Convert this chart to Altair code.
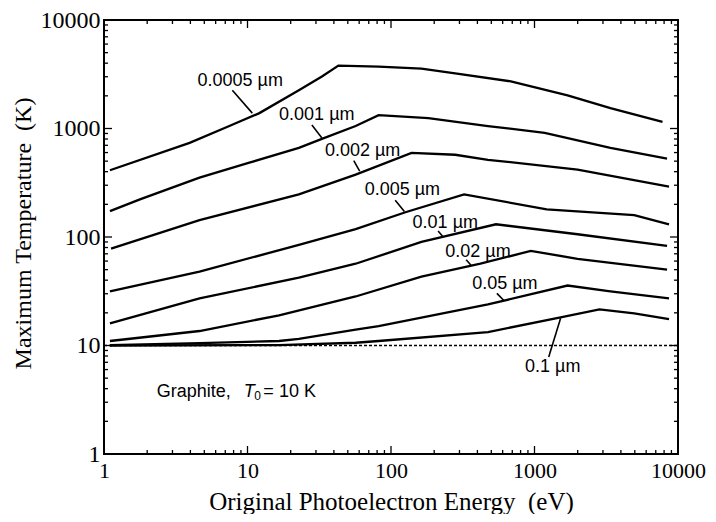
import altair as alt
import pandas as pd

# ---------------- data ----------------
sizes = ["0.0005 µm", "0.001 µm", "0.002 µm", "0.005 µm",
         "0.01 µm", "0.02 µm", "0.05 µm", "0.1 µm"]

energy_a = [1.1, 3.95, 7.47, 12.1, 22.8, 33, 43, 82, 163, 280, 684, 1700, 3380, 7800]
temp_a = [412, 738, 1054, 1386, 2248, 3015, 3800, 3725, 3570, 3215, 2720, 2023, 1540, 1150]

energy_b = [1.1, 1.78, 4.63, 10.3, 22.8, 33, 56.7, 82, 182, 474, 1178, 3380, 8390]
temp_b = [173, 222, 353, 484, 664, 802, 1054, 1328, 1247, 1054, 910, 664, 527]

energy_c = [1.12, 4.63, 22.8, 56.7, 139, 280, 474, 1995, 8660]
temp_c = [78, 143, 247, 376, 597, 573, 515, 418, 292]

energy_d = [1.1, 4.63, 22.8, 56.7, 126, 323, 1216, 4955, 8660]
temp_d = [31.5, 48, 84.5, 118, 169, 247, 180, 159, 131]

energy_e = [1.1, 4.63, 22.8, 56.7, 163, 539, 1995, 8390]
temp_e = [16.0, 27.2, 42.2, 56.7, 90, 131, 106, 83]

energy_f = [1.1, 4.63, 16.6, 56.7, 163, 420, 942, 1995, 8390]
temp_f = [11.0, 13.6, 19.0, 28.3, 43.1, 56.7, 74.5, 63, 50]

energy_g = [1.1, 4.63, 16.6, 22.8, 56.7, 82, 474, 1700, 3380, 8660]
temp_g = [10.1, 10.5, 11.0, 11.5, 14.0, 15.1, 23.9, 35.7, 31.5, 27.2]

energy_h = [1.1, 16.6, 56.7, 82, 474, 1520, 2835, 4955, 8660]
temp_h = [10.0, 10.1, 10.6, 11.0, 13.3, 18.2, 21.5, 19.8, 17.5]

initial_energy = [1, 10000]
initial_temp = [10, 10]

# label positions (data units) and leader lines
label_x = [8.9, 30.4, 63.4, 120, 239, 404, 622, 1340]
label_y = [2716, 1328, 623, 269, 134, 73, 36.5, 6.36]
lead_x1 = [7.84, 28.1, 55, 107, 213, 334, 547, 1520]
lead_y1 = [2248, 1076, 505, 218, 113.5, 61.7, 30.2, 17.8]
lead_x2 = [10.8, 33.0, 60.5, 124, 231, 361, 612, 1256]
lead_y2 = [1386, 819, 405, 172, 100, 55, 26, 7.85]

major_ticks = [1, 10, 100, 1000, 10000]
minor_ticks = [m * 10 ** d for d in range(4) for m in range(2, 10)]

# ---------------- build tables ----------------
curves = [(energy_a, temp_a), (energy_b, temp_b), (energy_c, temp_c), (energy_d, temp_d),
          (energy_e, temp_e), (energy_f, temp_f), (energy_g, temp_g), (energy_h, temp_h)]
rows = []
for s, (ex, ty) in zip(sizes, curves):
    for e, t in zip(ex, ty):
        rows.append({"size": s, "energy": e, "temp": t})
df = pd.DataFrame(rows)

df_init = pd.DataFrame({"energy": initial_energy, "temp": initial_temp})
df_lab = pd.DataFrame({"label": sizes, "energy": label_x, "temp": label_y})
df_lead = pd.DataFrame({"energy": lead_x1, "temp": lead_y1, "x2": lead_x2, "y2": lead_y2})
df_major = pd.DataFrame({"t": major_ticks})
df_minor = pd.DataFrame({"t": minor_ticks})

W, H = 574, 434
xs = alt.Scale(type="log", domain=[1, 10000], nice=False)
ys = alt.Scale(type="log", domain=[1, 10000], nice=False)

serif = "Liberation Serif"
sans = "Liberation Sans"
NB = "\u00a0"

x_axis = alt.Axis(values=major_ticks, format="d",
                  title="Original Photoelectron Energy" + NB + NB + "(eV)",
                  labelFont=serif, labelFontSize=22, labelPadding=6, labelColor="black",
                  titleFont=serif, titleFontSize=25, titleFontWeight="normal", titleColor="black",
                  titleY=55, titleBaseline="alphabetic", labelFlush=False,
                  ticks=False, domain=False, grid=False)
y_axis = alt.Axis(values=major_ticks, format="d",
                  title="Maximum Temperature" + NB + NB + "(K)",
                  labelFont=serif, labelFontSize=24, labelPadding=4, labelColor="black",
                  titleFont=serif, titleFontSize=24, titleFontWeight="normal", titleColor="black",
                  titleX=-74, titleY=213, titleAngle=270, titleAlign="center",
                  titleBaseline="alphabetic", labelFlush=False,
                  ticks=False, domain=False, grid=False)

X = alt.X("energy:Q", scale=xs, axis=x_axis)
Y = alt.Y("temp:Q", scale=ys, axis=y_axis)

lines = alt.Chart(df).mark_line(color="black", strokeWidth=2.3).encode(
    x=X, y=Y, detail="size:N",
)

init_line = alt.Chart(df_init).mark_line(color="black", strokeWidth=1.4, strokeDash=[3, 2]).encode(
    x=X, y=Y,
)

leaders = alt.Chart(df_lead).mark_rule(color="black", strokeWidth=1.6).encode(
    x=X, y=Y, x2="x2:Q", y2="y2:Q",
)

labels = alt.Chart(df_lab).mark_text(font=sans, fontSize=18, color="black",
                                      align="center", baseline="middle").encode(
    x=X, y=Y, text="label:N",
)

ann_text = ["Graphite,", "T", "0", "= 10 K"]
ann_x = [2.33, 9.4, 11.15, 12.9]
ann_y = [3.76, 3.76, 3.42, 3.76]
ann_style = [("normal", 18), ("italic", 18), ("normal", 12), ("normal", 18)]
ann_layers = []
for t, ax_, ay_, (st, fs) in zip(ann_text, ann_x, ann_y, ann_style):
    d = pd.DataFrame({"energy": [ax_], "temp": [ay_], "t": [t]})
    ann_layers.append(
        alt.Chart(d).mark_text(font=sans, fontSize=fs, fontStyle=st, color="black",
                               align="left", baseline="middle").encode(
            x=X, y=Y, text="t:N")
    )


def tick_layers(df_t, length):
    tx = alt.X("t:Q", scale=xs, axis=x_axis)
    ty = alt.Y("t:Q", scale=ys, axis=y_axis)
    out = []
    # bottom and top
    out.append(alt.Chart(df_t).mark_rule(color="black", strokeWidth=1.3).encode(
        x=tx, y=alt.value(H), y2=alt.value(H - length)))
    out.append(alt.Chart(df_t).mark_rule(color="black", strokeWidth=1.3).encode(
        x=tx, y=alt.value(0), y2=alt.value(length)))
    # left and right
    out.append(alt.Chart(df_t).mark_rule(color="black", strokeWidth=1.3).encode(
        y=ty, x=alt.value(0), x2=alt.value(length)))
    out.append(alt.Chart(df_t).mark_rule(color="black", strokeWidth=1.3).encode(
        y=ty, x=alt.value(W), x2=alt.value(W - length)))
    return out


ticks = tick_layers(df_major, 8) + tick_layers(df_minor, 4)

chart = alt.layer(lines, init_line, leaders, labels, *ann_layers, *ticks).properties(
    width=W, height=H,
    autosize=alt.AutoSizeParams(type="none"),
    padding={"left": 96, "top": 12, "right": 30, "bottom": 60},
    background="white",
).configure_view(stroke="black", strokeWidth=2)

chart.save("out.html", embed_options={"renderer": "svg", "actions": False})
